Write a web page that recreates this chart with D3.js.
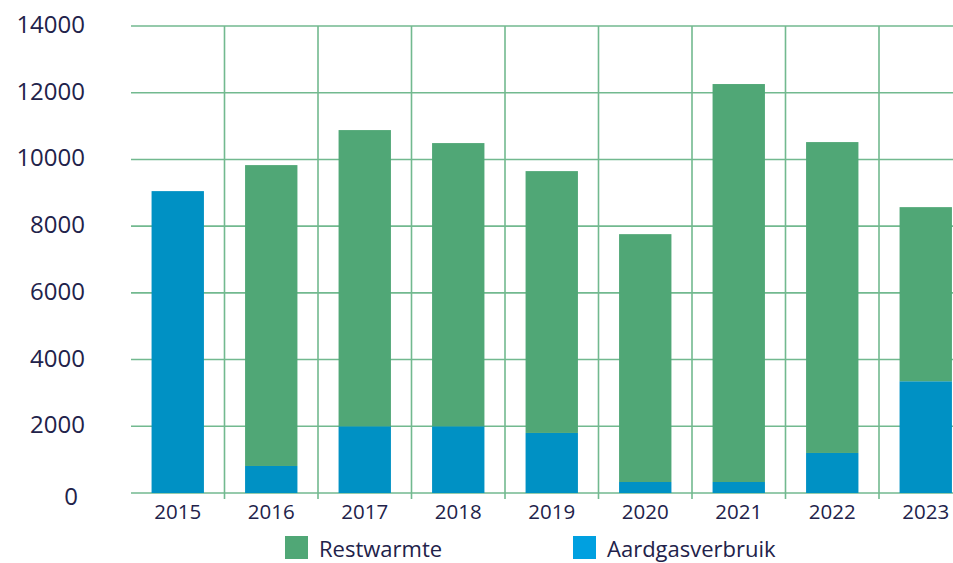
<!DOCTYPE html>
<html>
<head>
<meta charset="utf-8">
<script src="https://cdn.jsdelivr.net/npm/d3@7"></script>
<style>
  body { margin: 0; background: #fff; }
  svg { display: block; font-family: "Open Sans", sans-serif; }
</style>
</head>
<body>
<svg id="chart" width="953" height="563"></svg>
<script>
const years = ["2015", "2016", "2017", "2018", "2019", "2020", "2021", "2022", "2023"];
const aardgas = [9050, 810, 2000, 2000, 1800, 330, 330, 1200, 3350];
const restwarmte = [0, 9020, 8880, 8490, 7850, 7430, 11930, 9320, 5220];
const yTicks = [0, 2000, 4000, 6000, 8000, 10000, 12000, 14000];

const GREEN = "#50a776";
const BLUE = "#0091c4";
const GRID = "#72b98f";
const TEXT = "#22224a";

const svg = d3.select("#chart");
const W = 953;
const plotLeft = 131, plotTop = 26, plotBottom = 493;

const x = d3.scaleBand()
    .domain(years)
    .range([plotLeft, plotLeft + 93.5 * years.length])
    .paddingInner(0.44)
    .paddingOuter(0.22);

const y = d3.scaleLinear().domain([0, 14000]).range([plotBottom, plotTop]);

const rows = years.map((yr, i) => ({ year: yr, aardgas: aardgas[i], restwarmte: restwarmte[i] }));
const stack = d3.stack().keys(["aardgas", "restwarmte"])(rows);

// horizontal grid
svg.append("g")
    .selectAll("line")
    .data(yTicks)
    .enter()
    .append("line")
    .attr("x1", plotLeft).attr("x2", W)
    .attr("y1", d => y(d)).attr("y2", d => y(d))
    .attr("stroke", GRID).attr("stroke-width", 1.6);

// vertical grid at category boundaries
const step = x.step();
svg.append("g")
    .selectAll("line")
    .data(years.slice(0, -1))
    .enter()
    .append("line")
    .attr("x1", d => x(d) + x.bandwidth() + step * 0.22)
    .attr("x2", d => x(d) + x.bandwidth() + step * 0.22)
    .attr("y1", plotTop).attr("y2", plotBottom + 6)
    .attr("stroke", GRID).attr("stroke-width", 1.6);

// bars
svg.append("g")
    .selectAll("g")
    .data(stack)
    .enter()
    .append("g")
    .attr("fill", d => d.key === "aardgas" ? BLUE : GREEN)
    .selectAll("rect")
    .data(d => d)
    .enter()
    .append("rect")
    .attr("x", d => x(d.data.year))
    .attr("width", x.bandwidth())
    .attr("y", d => y(d[1]))
    .attr("height", d => y(d[0]) - y(d[1]));

// y labels
svg.append("g")
    .selectAll("text")
    .data(yTicks)
    .enter()
    .append("text")
    .attr("x", d => d === 0 ? 78 : 85)
    .attr("y", d => y(d) + (d === 0 ? 12 : 7))
    .attr("text-anchor", "end")
    .attr("font-size", 24)
    .attr("fill", TEXT)
    .text(d => d);

// x labels
svg.append("g")
    .selectAll("text")
    .data(years)
    .enter()
    .append("text")
    .attr("x", d => x(d) + x.bandwidth() / 2)
    .attr("y", 519)
    .attr("text-anchor", "middle")
    .attr("font-size", 20.5)
    .attr("fill", TEXT)
    .text(d => d);

// legend
const legend = [
    { name: "Restwarmte", color: GREEN, x: 285 },
    { name: "Aardgasverbruik", color: "#00a0e0", x: 573 }
];
const lg = svg.append("g")
    .selectAll("g")
    .data(legend)
    .enter()
    .append("g")
    .attr("transform", d => `translate(${d.x},536)`);
lg.append("rect").attr("width", 23).attr("height", 23).attr("fill", d => d.color);
lg.append("text")
    .attr("x", 34).attr("y", 21)
    .attr("font-size", 22)
    .attr("fill", TEXT)
    .text(d => d.name);
</script>
</body>
</html>
